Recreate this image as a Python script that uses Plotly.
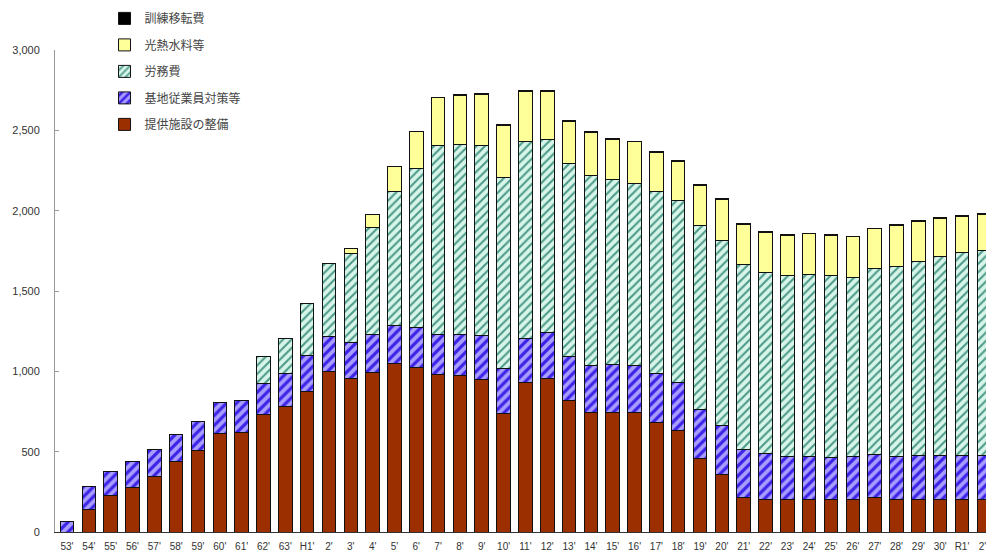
import plotly.graph_objects as go

# Fiscal-year categories (昭和53年度 ～ 令和2年度)
years = ["53'", "54'", "55'", "56'", "57'", "58'", "59'", "60'", "61'", "62'", "63'",
         "H1'", "2'", "3'", "4'", "5'", "6'", "7'", "8'", "9'", "10'", "11'", "12'",
         "13'", "14'", "15'", "16'", "17'", "18'", "19'", "20'", "21'", "22'", "23'",
         "24'", "25'", "26'", "27'", "28'", "29'", "30'", "R1'", "2' "]

# 億円
facilities = [0, 140, 227, 279, 345, 438, 508, 614, 622, 733, 784,
              877, 1000, 956, 992, 1050, 1024, 980, 974, 950, 738, 932, 958,
              816, 744, 744, 742, 680, 632, 456, 360, 215, 203, 203,
              203, 203, 203, 217, 203, 203, 203, 203, 203]
employees = [63, 141, 152, 157, 171, 171, 182, 191, 196, 193, 201,
             221, 215, 225, 238, 238, 247, 249, 254, 275, 277, 274, 282,
             279, 292, 297, 295, 304, 301, 304, 300, 297, 283, 267,
             269, 259, 269, 265, 269, 273, 273, 273, 273]
labor = [0, 0, 0, 0, 0, 0, 0, 0, 0, 169, 218,
         325, 459, 555, 663, 832, 994, 1175, 1186, 1183, 1193, 1223, 1204,
         1200, 1183, 1150, 1131, 1134, 1129, 1145, 1157, 1153, 1132, 1126,
         1133, 1134, 1114, 1156, 1182, 1209, 1241, 1261, 1276]
utilities = [0, 0, 0, 0, 0, 0, 0, 0, 0, 0, 0,
             0, 0, 31, 86, 158, 229, 300, 304, 314, 324, 313, 298,
             262, 268, 252, 262, 246, 247, 254, 253, 250, 249, 251,
             251, 251, 251, 249, 253, 247, 233, 225, 224]
training = [0, 0, 0, 0, 0, 0, 0, 0, 0, 0, 0,
            0, 0, 0, 0, 0, 0, 0, 7, 8, 3, 3, 3,
            2, 3, 8, 3, 3, 3, 2, 3, 3, 3, 3,
            3, 3, 3, 4, 5, 5, 7, 8, 8]

series_names = ["提供施設の整備", "基地従業員対策等", "労務費", "光熱水料等", "訓練移転費"]
series_values = [facilities, employees, labor, utilities, training]

outline = dict(color="#111111", width=1)
styles = [
    dict(color="#9c2f00", line=outline),
    dict(color="#a99cff", line=outline,
         pattern=dict(shape="/", fgcolor="#3a22e6", bgcolor="#a99cff",
                      size=7, solidity=0.45, fillmode="replace")),
    dict(color="#d8f5ea", line=outline,
         pattern=dict(shape="/", fgcolor="#4c9a88", bgcolor="#d8f5ea",
                      size=6, solidity=0.35, fillmode="replace")),
    dict(color="#ffff99", line=outline),
    dict(color="#000000", line=outline),
]

fig = go.Figure()
n = len(series_names)
for i, (name, vals, st) in enumerate(zip(series_names, series_values, styles)):
    # stacked bottom-up; listed top-down in the legend
    fig.add_trace(go.Bar(x=years, y=vals, name=name, marker=st,
                         legendgroup=f"g{i}", legendrank=n - i))

fig.update_layout(
    barmode="stack",
    bargap=0.38,
    width=986, height=556,
    margin=dict(l=55, r=0, t=50, b=24, autoexpand=False),
    paper_bgcolor="white",
    plot_bgcolor="white",
    font=dict(family="Liberation Sans, Arial, Noto Sans CJK JP", size=11, color="#333333"),
    legend=dict(
        traceorder="grouped",
        xref="container", yref="container",
        x=0.106, y=0.993, xanchor="left", yanchor="top",
        font=dict(family="Noto Sans CJK JP", size=12, color="#444444"),
        tracegroupgap=7.5,
        itemwidth=30,
        bgcolor="rgba(0,0,0,0)",
    ),
    showlegend=True,
)

fig.update_xaxes(
    type="category",
    range=[-0.55, 42.1],
    showline=True, linecolor="#333333", linewidth=1,
    ticks="", showgrid=False,
    tickangle=0,
    ticklabelstandoff=5,
    tickfont=dict(size=10, color="#333333"),
)
fig.update_yaxes(
    range=[0, 3000],
    tickvals=[0, 500, 1000, 1500, 2000, 2500, 3000],
    tickformat=",",
    showline=True, linecolor="#999999", linewidth=1,
    ticks="inside", ticklen=4, tickcolor="#999999",
    showgrid=False, zeroline=False,
    ticklabelstandoff=12,
    tickfont=dict(size=11, color="#333333"),
)

fig.write_html("out.html")
